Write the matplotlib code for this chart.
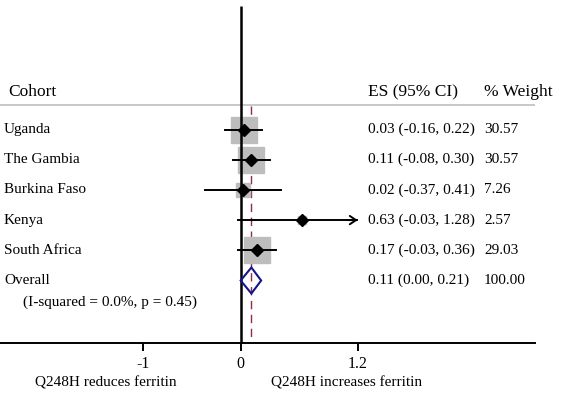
import matplotlib
matplotlib.use("Agg")
import matplotlib.pyplot as plt
from matplotlib.patches import Polygon
from matplotlib.transforms import blended_transform_factory

# ---- data ----
cohorts = ["Uganda", "The Gambia", "Burkina Faso", "Kenya", "South Africa"]
es = [0.03, 0.11, 0.02, 0.63, 0.17]
ci_lo = [-0.16, -0.08, -0.37, -0.03, -0.03]
ci_hi = [0.22, 0.30, 0.41, 1.28, 0.36]
weights = [30.57, 30.57, 7.26, 2.57, 29.03]
es_labels = ["0.03 (-0.16, 0.22)", "0.11 (-0.08, 0.30)", "0.02 (-0.37, 0.41)",
             "0.63 (-0.03, 1.28)", "0.17 (-0.03, 0.36)"]
weight_labels = ["30.57", "30.57", "7.26", "2.57", "29.03"]
overall_es = 0.11
overall_lo = 0.00
overall_hi = 0.21
overall_label = "0.11 (0.00, 0.21)"
overall_weight = "100.00"
het_text = "(I-squared = 0.0%, p = 0.45)"
xticks = [-1, 0, 1.2]
xticklabels = ["-1", "0", "1.2"]
left_label = "Q248H reduces ferritin"
right_label = "Q248H increases ferritin"

plt.rcParams['font.family'] = ['Liberation Serif', 'DejaVu Serif']
FS = 11
FSH = 12.5

fig = plt.figure(figsize=(5.64, 3.94), dpi=100)
ax = fig.add_axes([0, 0, 1, 1])
ax.set_xlim(-2.466, 3.313)
ax.set_ylim(8.758, -4.288)
ax.patch.set_alpha(0)
for s in ['top', 'left', 'right']:
    ax.spines[s].set_visible(False)

axis_y = 7.06
ax.spines['bottom'].set_position(('data', axis_y))
ax.spines['bottom'].set_bounds(-2.466, 3.015)
ax.spines['bottom'].set_linewidth(1.4)
ax.set_yticks([])
ax.set_xticks(xticks)
ax.set_xticklabels(xticklabels, fontsize=11.5)
ax.tick_params(axis='x', direction='out', length=5.8, width=1.4, pad=4)

tr = blended_transform_factory(ax.transAxes, ax.transData)
px = lambda p: p / 564.0

# header
ax.text(px(8), -1.24, "Cohort", transform=tr, fontsize=FSH, va='center', ha='left')
ax.text(px(368), -1.24, "ES (95% CI)", transform=tr, fontsize=FSH, va='center', ha='left')
ax.text(px(484), -1.24, "% Weight", transform=tr, fontsize=FSH, va='center', ha='left')
ax.plot([-2.466, 3.015], [-0.82, -0.82], color='#c8c8c8', lw=1.4, solid_capstyle='butt')

# null line and overall line
ax.plot([0, 0], [-4.09, axis_y], color='black', lw=1.8, zorder=4, solid_capstyle='butt')
ax.plot([overall_es, overall_es], [-0.78, axis_y], color='#902d3e', lw=1.0,
        dashes=(6, 4), zorder=1)

clip_max = max(xticks)
clip_min = min(xticks)
max_w = max(weights)
for i, (name, e, lo, hi, w, el, wl) in enumerate(zip(cohorts, es, ci_lo, ci_hi, weights,
                                                       es_labels, weight_labels)):
    ax.plot([e], [i], marker='s', ms=19.4 * (w / max_w) ** 0.5, color='#bdbdbd',
            mec='#bdbdbd', zorder=2, ls='none')
    if hi > clip_max:
        ax.plot([max(lo, clip_min), clip_max - 0.01], [i, i], color='black', lw=1.4, zorder=3)
        ax.annotate("", xy=(clip_max, i), xytext=(clip_max - 0.1, i),
                    arrowprops=dict(arrowstyle='->,head_length=0.45,head_width=0.3',
                                    color='black', lw=1.4, shrinkA=0, shrinkB=0), zorder=3)
    else:
        ax.plot([max(lo, clip_min), hi], [i, i], color='black', lw=1.4, zorder=3)
    ax.plot([e], [i], marker='D', ms=6, color='black', zorder=5, ls='none')
    ax.text(px(4), i, name, transform=tr, fontsize=FS, va='center', ha='left')
    ax.text(px(368), i, el, transform=tr, fontsize=FS, va='center', ha='left')
    ax.text(px(484), i, wl, transform=tr, fontsize=FS, va='center', ha='left')

# overall
oy = len(cohorts)
h = 0.43
diamond = Polygon([[overall_lo, oy], [overall_es, oy - h], [overall_hi, oy], [overall_es, oy + h]],
                  closed=True, facecolor='none', edgecolor='#14148c', lw=1.5, zorder=5)
ax.add_patch(diamond)
ax.text(px(4), oy, "Overall", transform=tr, fontsize=FS, va='center', ha='left')
ax.text(px(23), oy + 0.73, het_text, transform=tr, fontsize=FS, va='center', ha='left')
ax.text(px(368), oy, overall_label, transform=tr, fontsize=FS, va='center', ha='left')
ax.text(px(484), oy, overall_weight, transform=tr, fontsize=FS, va='center', ha='left')

# bottom labels
ax.text(px(106), 8.38, left_label, transform=tr, fontsize=FS, va='center', ha='center')
ax.text(px(347), 8.38, right_label, transform=tr, fontsize=FS, va='center', ha='center')

fig.savefig("out.png", dpi=100)
